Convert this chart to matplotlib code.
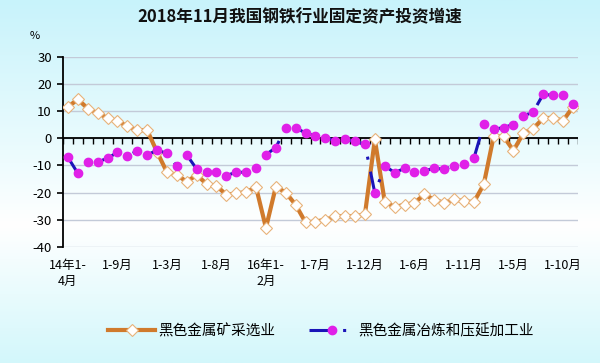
import numpy as np
import matplotlib
matplotlib.use('Agg')
import matplotlib.pyplot as plt
from matplotlib.colors import LinearSegmentedColormap

plt.rcParams['font.family'] = ['Noto Sans CJK SC', 'DejaVu Sans']
plt.rcParams['axes.unicode_minus'] = False

# 数据 (2014年1-4月 ~ 2018年1-11月, 累计同比 %)
kuangcai = [11.6, 14.4, 11.0, 9.3, 7.5, 6.3, 4.5, 3.0, 3.0, -5.0,
            -12.5, -13.5, -16.0, -13.5, -16.8, -17.5, -20.8, -20.3, -19.8, -18.0,
            -33.0, -17.8, -20.0, -24.5, -31.0, -30.7, -30.0, -28.8, -28.7, -28.8,
            -28.0, -0.4, -23.4, -25.3, -24.5, -23.8, -20.7, -22.6, -23.8, -22.5,
            -23.2, -23.5, -17.0, 0.7, 0.7, -4.5, 1.9, 3.6, 7.4, 7.6,
            6.5, 11.5]
yelian = [-7.0, -12.9, -8.6, -8.6, -7.4, -5.1, -6.4, -4.7, -6.1, -4.4,
          -5.5, -10.2, -6.1, -11.3, -12.5, -12.5, -13.7, -12.5, -12.5, -11.0,
          -6.0, -3.4, 4.0, 4.0, 1.9, 0.9, 0.3, -0.9, -0.4, -1.1,
          -2.2, -20.2, -10.2, -12.6, -11.1, -12.3, -12.0, -11.0, -11.4, -10.2,
          -9.4, -7.4, 5.2, 3.3, 4.0, 5.1, 8.2, 9.8, 16.2, 15.9,
          15.9, 12.8]
tick_labels = ['14年1-\n4月', '1-9月', '1-3月', '1-8月', '16年1-\n2月', '1-7月',
               '1-12月', '1-6月', '1-11月', '1-5月', '1-10月']
tick_step = 5

n = len(kuangcai)
x = np.arange(n)
ymin, ymax = -40, 30

fig = plt.figure(figsize=(6, 3.63), dpi=100)

# 背景渐变
bg = fig.add_axes([0, 0, 1, 1], zorder=-1)
cmap = LinearSegmentedColormap.from_list(
    'bg', [(0, '#c8f3fb'), (0.45, '#eefcfe'), (0.62, '#ffffff'), (1, '#d3f7fb')])
bg.imshow(np.linspace(0, 1, 256).reshape(-1, 1), aspect='auto', cmap=cmap,
          extent=[0, 1, 0, 1])
bg.axis('off')

ax = fig.add_axes([0.105, 0.32, 0.858, 0.523])
ax.set_facecolor('none')

# 0 轴线和刻度
ax.axhline(0, color='black', lw=1.3, zorder=2)
ax.vlines(np.arange(-0.5, n, 1), -1.9, 0, color='black', lw=1, zorder=2)

ax.plot(x, kuangcai, color='#d07a2c', lw=3, marker='D', ms=6.5,
        mfc='white', mec='#e8b27a', mew=0.8, label='黑色金属矿采选业', zorder=3)
ax.plot(x, yelian, color='#1a14b8', lw=2.2, linestyle=(0, (7, 4, 1, 4)),
        marker='o', ms=6, mfc='#e020e8', mec='#e020e8', label='黑色金属冶炼和压延加工业',
        zorder=4)

ax.set_xlim(-0.5, n - 0.5)
ax.set_ylim(ymin, ymax)
ax.set_yticks(np.arange(ymin, ymax + 1, 10))
ax.yaxis.grid(True, color='#c3cad8', lw=1)
ax.set_axisbelow(True)
ax.tick_params(axis='y', direction='out', length=4, width=1.2, labelsize=9.5, pad=4)
ax.set_xticks(x[::tick_step])
ax.set_xticklabels(tick_labels, fontsize=9, linespacing=1.3, va='top')
ax.tick_params(axis='x', length=0, pad=9)
for s in ['top', 'right', 'bottom']:
    ax.spines[s].set_visible(False)
ax.spines['left'].set_linewidth(1.3)

fig.text(300 / 600, 1 - 17 / 363, '2018年11月我国钢铁行业固定资产投资增速',
         ha='center', va='center', fontsize=12, fontweight='bold', color='#111111')
fig.text(35 / 600, 1 - 36 / 363, '%', ha='center', va='center', fontsize=8)

fig.legend(loc='center', bbox_to_anchor=(0.535, 1 - 331 / 363), ncol=2, frameon=False,
           fontsize=10.5, handlelength=3.2, columnspacing=2.3, handletextpad=0.2,
           numpoints=1)

fig.savefig('out.png', dpi=100)
